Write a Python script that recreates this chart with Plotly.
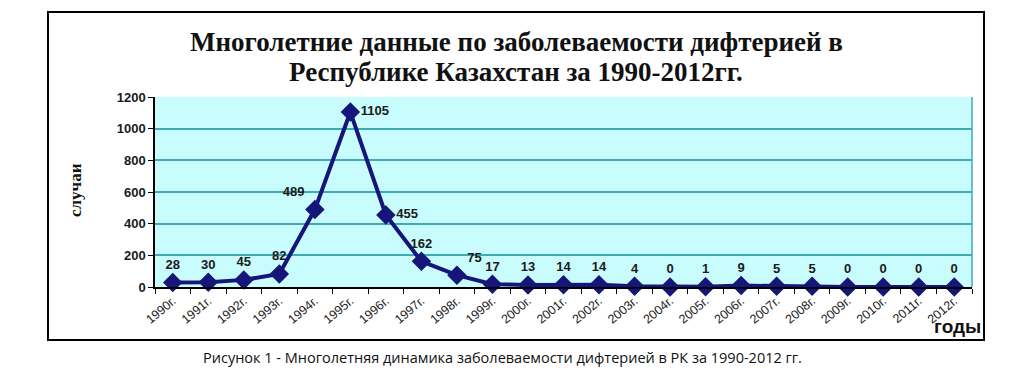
import plotly.graph_objects as go

years = [str(y) + "г." for y in range(1990, 2013)]
cases = [28, 30, 45, 82, 489, 1105, 455, 162, 75, 17, 13, 14, 14, 4, 0, 1, 9, 5, 5, 0, 0, 0, 0]
label_pos = ["top center"] * len(cases)
label_pos[4] = "top left"
label_pos[5] = "middle right"
label_pos[6] = "middle right"
label_pos[8] = "top right"

W, H = 1024, 372
px = lambda x: x / W
py = lambda y: (H - y) / H

fig = go.Figure()
fig.add_trace(go.Scatter(
    x=years, y=cases, mode="lines+markers+text",
    line=dict(color="#16167a", width=4),
    marker=dict(symbol="diamond", size=15, color="#16167a"),
    text=["<b>" + str(v) + "</b>" for v in cases], textposition=label_pos,
    textfont=dict(family="Liberation Sans, Arial", size=13, color="#1a1a1a"),
    cliponaxis=False, showlegend=False,
))

fig.update_layout(
    width=W, height=H,
    margin=dict(l=0, r=0, t=0, b=0, pad=0, autoexpand=False),
    paper_bgcolor="white",
    plot_bgcolor="#c9fcfd",
    xaxis=dict(
        domain=[px(155), px(972)], type="category", automargin=False,
        range=[-0.5, len(years) - 0.5],
        showline=True, linecolor="black", linewidth=1.5,
        ticks="outside", tickson="boundaries", ticklen=5, tickcolor="black",
        tickangle=-40, showgrid=False,
        tickfont=dict(family="Liberation Sans, Arial", size=12.5, color="#222"),
    ),
    yaxis=dict(
        domain=[py(287), py(97)], range=[0, 1200], dtick=200, automargin=False,
        showline=True, linecolor="black", linewidth=1.5,
        ticks="outside", ticklen=5, tickcolor="black",
        gridcolor="#3eaab6", gridwidth=1.5, zeroline=False,
        tickfont=dict(family="Liberation Sans, Arial", size=13, color="#1a1a1a", weight="bold"),
    ),
    shapes=[
        dict(type="rect", xref="paper", yref="paper",
             x0=px(48), x1=px(984), y0=py(340), y1=py(12),
             line=dict(color="black", width=2), fillcolor="rgba(0,0,0,0)"),
        dict(type="line", xref="paper", yref="paper",
             x0=px(972), x1=px(972), y0=py(287), y1=py(97),
             line=dict(color="#3eaab6", width=1.5)),
    ],
    annotations=[
        dict(text="<b>Многолетние данные по заболеваемости дифтерией в</b>",
             xref="paper", yref="paper", x=px(516), y=py(42), xanchor="center", yanchor="middle", showarrow=False,
             font=dict(family="Liberation Serif, Times New Roman", size=27, color="#111")),
        dict(text="<b>Республике Казахстан за 1990-2012гг.</b>",
             xref="paper", yref="paper", x=px(516), y=py(72), xanchor="center", yanchor="middle", showarrow=False,
             font=dict(family="Liberation Serif, Times New Roman", size=27, color="#111")),
        dict(text="<b>случаи</b>", textangle=-90,
             xref="paper", yref="paper", x=px(75), y=py(190), xanchor="center", yanchor="middle", showarrow=False,
             font=dict(family="Liberation Serif, Times New Roman", size=17, color="#111")),
        dict(text="<b>годы</b>",
             xref="paper", yref="paper", x=px(957), y=py(326), xanchor="center", yanchor="middle", showarrow=False,
             font=dict(family="Liberation Sans, Arial", size=19, color="#111")),
        dict(text="Рисунок 1 - Многолетняя динамика заболеваемости дифтерией в РК за 1990-2012 гг.",
             xref="paper", yref="paper", x=px(502), y=py(357), xanchor="center", yanchor="middle", showarrow=False,
             font=dict(family="Open Sans, Liberation Sans", size=14.5, color="#111")),
    ],
)

fig.write_html("out.html", config={"displayModeBar": False},
               post_script="document.body.style.margin='0';document.body.style.overflow='hidden';")
